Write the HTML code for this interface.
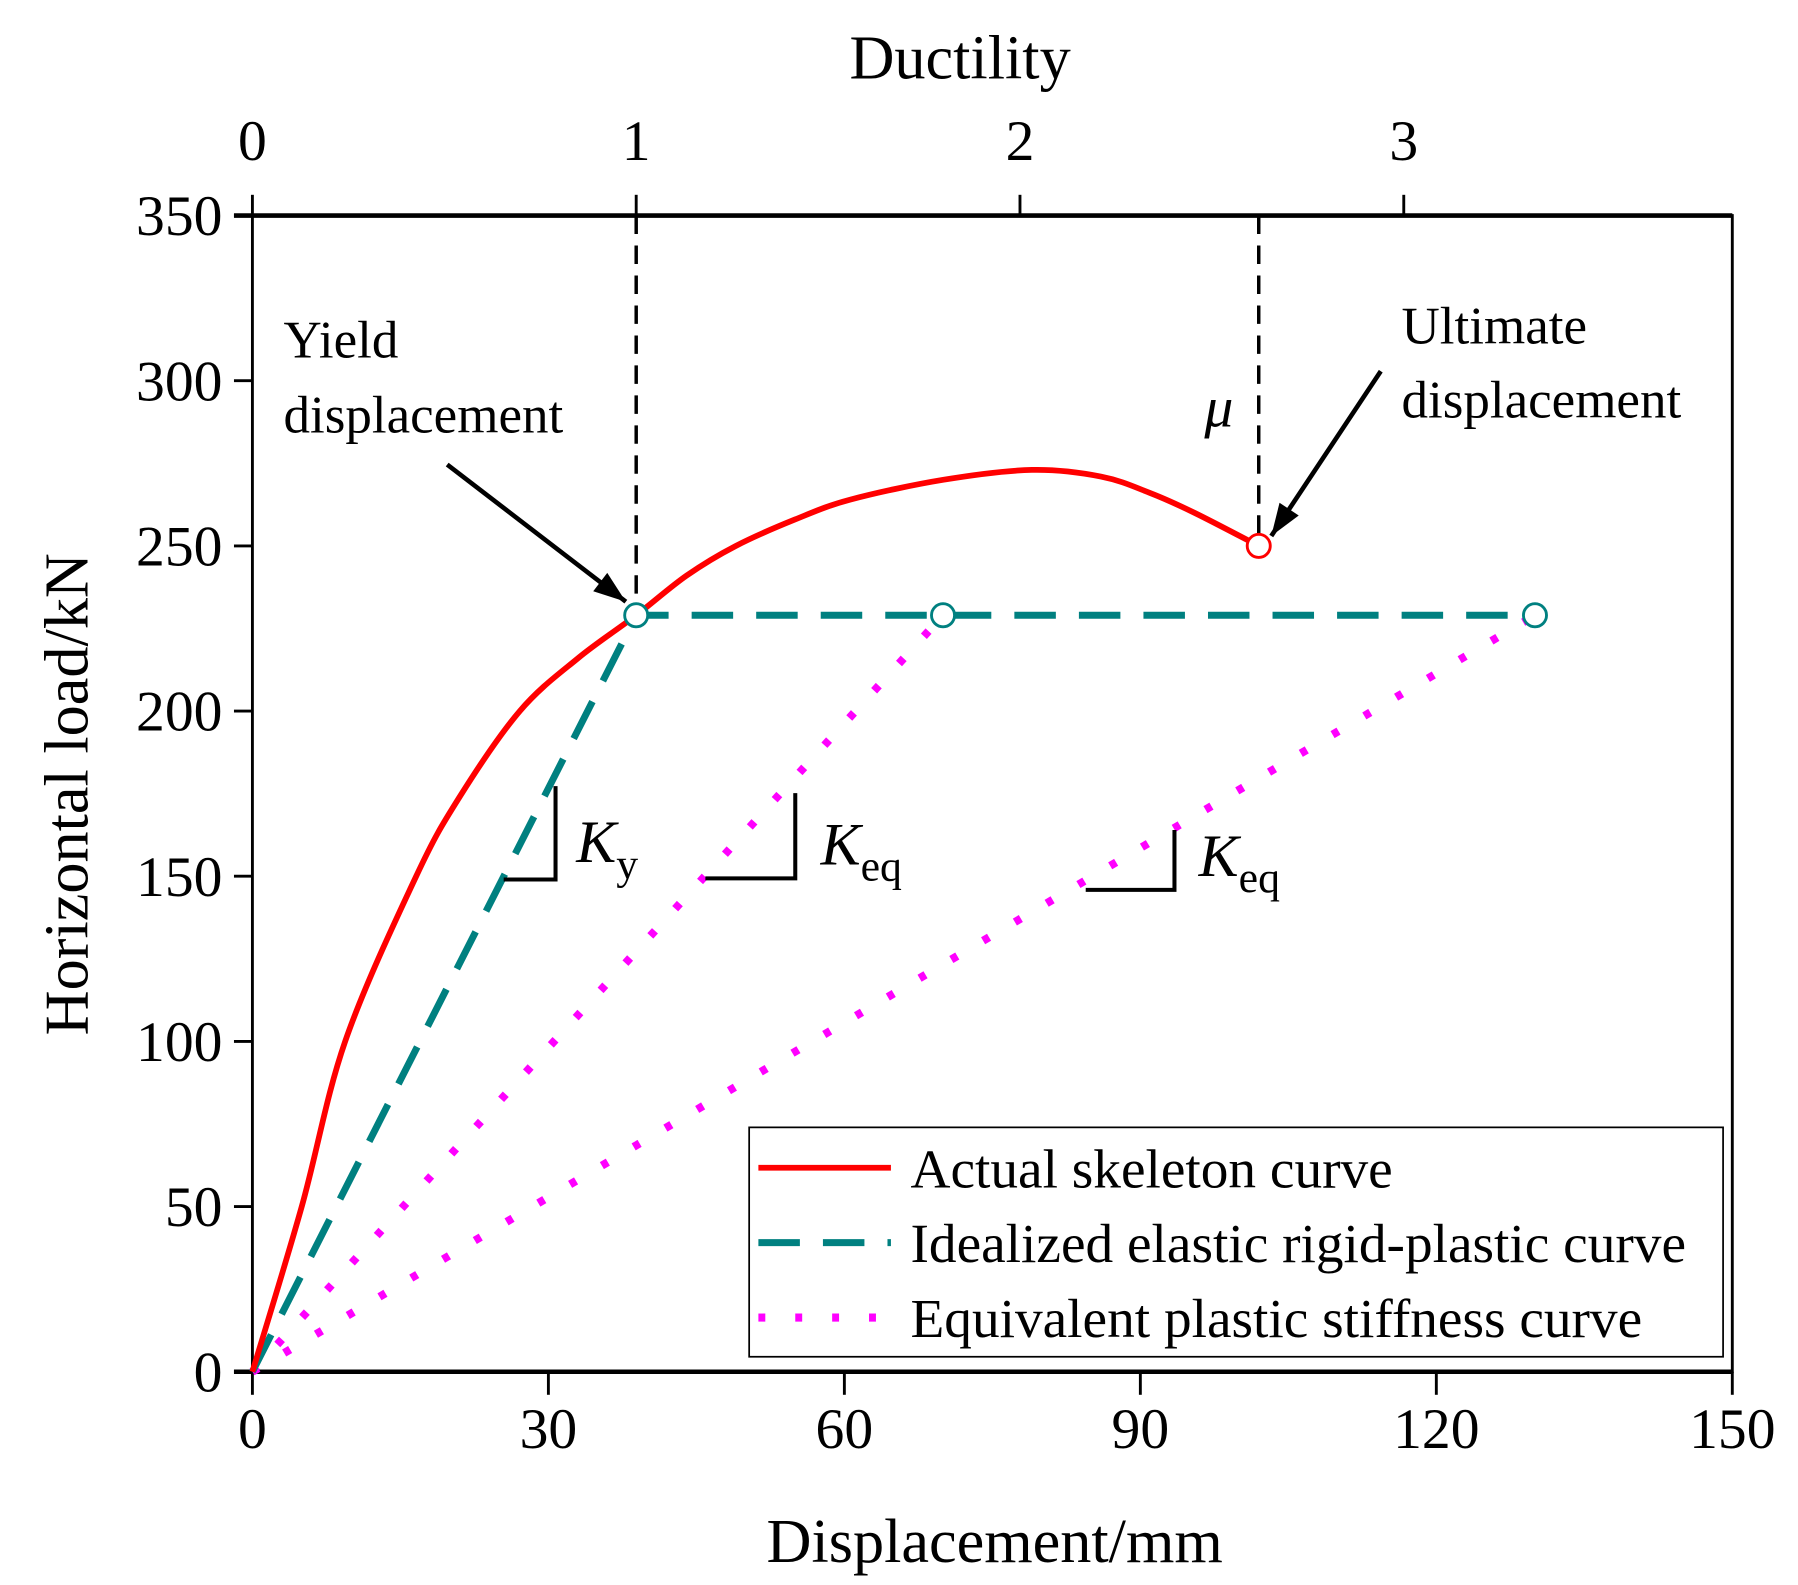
<!DOCTYPE html>
<html><head><meta charset="utf-8"><style>html,body{margin:0;padding:0;background:#fff}svg{display:block}text{font-family:"Liberation Serif",serif;fill:#000}</style></head>
<body>
<svg id="chart" width="1798" height="1585" viewBox="0 0 1560 1375" preserveAspectRatio="none" xmlns="http://www.w3.org/2000/svg">
<g id="plot"></g>
</svg>
<script>
const xTicks=[0,30,60,90,120,150];
const yTicks=[0,50,100,150,200,250,300,350];
const ductTicks=[0,1,2,3];
const yieldDisp=38.9;
const actualX=[0,5,9.4,16.6,21,27.1,33,38.9,44,49,55,60.6,70,79,86,91,95.5,102];
const actualY=[0,50,100,150,174,200,216,229,241,250,258,264,270,273,271,266,260,250];
const idealX=[0,38.9,130];
const idealY=[0,229,229];
const eqEnds=[70,130];
const eqLoad=229;
const ultX=102, ultY=250;

const L=219,R=1503,T=187,B=1190;
const sx=v=>L+(v/150)*(R-L);
const sy=v=>B-(v/350)*(B-T);
const NS='http://www.w3.org/2000/svg';
const g=document.getElementById('plot');
function mk(tag,attrs,parent){const e=document.createElementNS(NS,tag);for(const k in attrs)e.setAttribute(k,attrs[k]);(parent||g).appendChild(e);return e;}
function txt(s,x,y,size,anchor,name,extra){const e=mk('text',Object.assign({x:x,y:y,'font-size':size,'text-anchor':anchor||'start'},extra||{}));e.textContent=s;return e;}

const frame=mk('rect',{x:L,y:T,width:R-L,height:B-T,fill:'none',stroke:'#000','stroke-width':2.5});


const bx=mk('line',{x1:L-16,y1:B,x2:R,y2:B,stroke:'#000','stroke-width':4});


const tx=mk('line',{x1:L-16,y1:T,x2:R,y2:T,stroke:'#000','stroke-width':4});



xTicks.forEach(v=>{
  const t=mk('line',{x1:sx(v),y1:B,x2:sx(v),y2:B+20,stroke:'#000','stroke-width':2.5});
  
  
  txt(String(v),sx(v),B+66,50,'middle','x-tick-label');
});
yTicks.forEach(v=>{
  const t=mk('line',{x1:L-16,y1:sy(v),x2:L,y2:sy(v),stroke:'#000','stroke-width':2.5});
  
  
  txt(String(v),L-26,sy(v)+17,50,'end','y-tick-label');
});
ductTicks.forEach(v=>{
  const x=sx(v*yieldDisp);
  const t=mk('line',{x1:x,y1:T-18,x2:x,y2:T,stroke:'#000','stroke-width':2.5});
  
  
  txt(String(v),x,T-48,50,'middle','ductility-tick-label');
});
txt('Ductility',833,68,54,'middle','top-axis-title');
txt('Displacement/mm',863,1355,54,'middle','x-axis-title');
txt('Horizontal load/kN',76,689,54,'middle','y-axis-title',{transform:'rotate(-90 76 689)'});

[[yieldDisp,229],[ultX,ultY]].forEach(p=>{
  const l=mk('line',{x1:sx(p[0]),y1:T,x2:sx(p[0]),y2:sy(p[1]),stroke:'#000','stroke-width':3,'stroke-dasharray':'16,10'});
  
  
});

eqEnds.forEach(e=>{
  const l=mk('line',{x1:sx(0),y1:sy(0),x2:sx(e),y2:sy(eqLoad),stroke:'#ff00ff','stroke-width':7,'stroke-dasharray':'6,26'});
  
  
});
const ip=mk('polyline',{points:idealX.map((x,i)=>sx(x)+','+sy(idealY[i])).join(' '),fill:'none',stroke:'#008080','stroke-width':6,'stroke-dasharray':'36,20'});



const P=actualX.map((x,i)=>[sx(x),sy(actualY[i])]);
let d='M'+P[0][0]+','+P[0][1];
for(let i=0;i<P.length-1;i++){
  const p0=P[Math.max(0,i-1)],p1=P[i],p2=P[i+1],p3=P[Math.min(P.length-1,i+2)];
  const c1=[p1[0]+(p2[0]-p0[0])/6,p1[1]+(p2[1]-p0[1])/6];
  const c2=[p2[0]-(p3[0]-p1[0])/6,p2[1]-(p3[1]-p1[1])/6];
  d+=` C${c1[0]},${c1[1]} ${c2[0]},${c2[1]} ${p2[0]},${p2[1]}`;
}
const ap=mk('path',{d:d,fill:'none',stroke:'#ff0000','stroke-width':5,'stroke-linejoin':'round'});



[yieldDisp].concat(eqEnds).forEach(x=>{
  const c=mk('circle',{cx:sx(x),cy:sy(eqLoad),r:10,fill:'#fff',stroke:'#008080','stroke-width':2.5});
  
  
});
const uc=mk('circle',{cx:sx(ultX),cy:sy(ultY),r:10,fill:'#fff',stroke:'#ff0000','stroke-width':2.5});



txt('Yield',246,310,46,'start','yield-label');
txt('displacement',246,375,46,'start','yield-label');
txt('Ultimate',1216,298,46,'start','ultimate-label');
txt('displacement',1216,362,46,'start','ultimate-label');
txt('μ',1045,370,50,'start','mu-label',{'font-style':'italic'});
function arrow(x1,y1,x2,y2,name){
  const l=mk('line',{x1:x1,y1:y1,x2:x2,y2:y2,stroke:'#000','stroke-width':4});
  
  
  const a=Math.atan2(y2-y1,x2-x1),s=28,w=10;
  const bxp=x2-s*Math.cos(a),byp=y2-s*Math.sin(a);
  const h=mk('polygon',{points:`${x2},${y2} ${bxp+w*Math.sin(a)},${byp-w*Math.cos(a)} ${bxp-w*Math.sin(a)},${byp+w*Math.cos(a)}`,fill:'#000'});
  
  
}
arrow(388,403,543,522,'yield-arrow');
arrow(1198,322,1103,465,'ultimate-arrow');
function slope(xv,y1,y2,xh,label,sub,tx,ty,name){
  const p=mk('polyline',{points:`${xv},${y1} ${xv},${y2} ${xh},${y2}`,fill:'none',stroke:'#000','stroke-width':3.5});
  
  
  const t=txt('',tx,ty,52,'start',name+'-label',{'font-style':'italic'});
  const t1=mk('tspan',{},t);t1.textContent=label;
  const t2=mk('tspan',{'font-size':38,'font-style':'normal',dy:14},t);t2.textContent=sub;
}
slope(482,682,763,437,'K','y',500,748,'ky-slope');
slope(690,688,762,612,'K','eq',712,750,'keq-slope-1');
slope(1019,720,772,942,'K','eq',1040,760,'keq-slope-2');

const lg=mk('rect',{x:650,y:978,width:845,height:199,fill:'#fff',stroke:'#000','stroke-width':1.5});


const items=[['Actual skeleton curve','#ff0000','none',5],['Idealized elastic rigid-plastic curve','#008080','36,20',6],['Equivalent plastic stiffness curve','#ff00ff','6,26',7]];
items.forEach((it,i)=>{
  const y=1013+i*65;
  const l=mk('line',{x1:658,y1:y,x2:773,y2:y,stroke:it[1],'stroke-width':it[3],'stroke-dasharray':it[2]});
  
  
  txt(it[0],790,y+17,48,'start','legend-entry');
});
</script>
</body></html>
